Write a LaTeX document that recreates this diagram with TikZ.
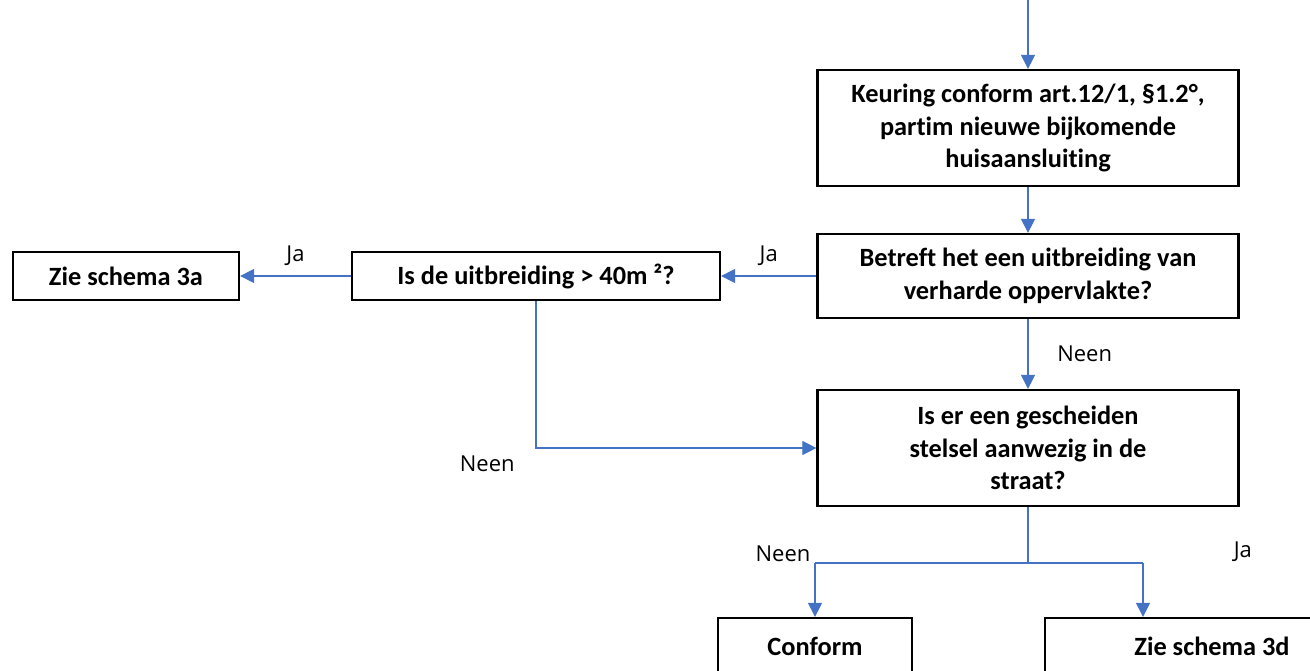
\documentclass[tikz,border=0pt]{standalone}
\usepackage{fontspec}
\setmainfont{Carlito}[RawFeature=-liga]
\newfontfamily\labelfont{Open Sans}
\usetikzlibrary{arrows.meta}
\definecolor{linkblue}{HTML}{4472C4}
\tikzset{
  box/.style={draw, line width=1.3pt, align=center, inner sep=0pt,
    font=\bfseries\fontsize{15}{18.5}\selectfont},
  link/.style={draw=linkblue, line width=0.7pt,
    -{Triangle[length=8pt,width=8pt]}, color=linkblue},
  lbl/.style={font=\labelfont\fontsize{12.5}{15}\selectfont, text=black}
}
\begin{document}
\begin{tikzpicture}[x=0.02cm,y=-0.02cm]
  \useasboundingbox (0,0) rectangle (1310,671);
  \coordinate (top) at (1028,0);
  \node[box, minimum width=8.42cm, minimum height=2.32cm] (keuring) at (1028,128)
    {Keuring conform art.12/1, §1.2°,\\ partim nieuwe bijkomende\\ huisaansluiting};
  \node[box, minimum width=8.42cm, minimum height=1.68cm] (betreft) at (1028,276)
    {Betreft het een uitbreiding van\\ verharde oppervlakte?};
  \node[box, minimum width=7.36cm, minimum height=0.96cm] (uitbreiding) at (536,276)
    {Is de uitbreiding > 40m ²?};
  \node[box, minimum width=4.52cm, minimum height=0.96cm] (schema3a) at (126,276)
    {Zie schema 3a};
  \node[box, minimum width=8.42cm, minimum height=2.32cm] (gescheiden) at (1028,448)
    {Is er een gescheiden\\ stelsel aanwezig in de\\ straat?};
  \node[box, minimum width=3.88cm, minimum height=1.12cm] (conform) at (815,646)
    {Conform};
  \node[box, minimum width=6.68cm, minimum height=1.12cm] (schema3d) at (1212,646)
    {Zie schema 3d};
  \coordinate (split) at (1028,563);
  \coordinate (splitL) at (815,563);
  \coordinate (splitR) at (1143,563);
  \begin{scope}[link]
    \draw (top) -- (keuring);
    \draw (keuring) -- (betreft);
    \draw (betreft) -- node[lbl, above, yshift=2pt]{Ja} (uitbreiding);
    \draw (uitbreiding) -- node[lbl, above, yshift=2pt]{Ja} (schema3a);
    \draw (betreft) -- node[lbl, right, xshift=13pt]{Neen} (gescheiden);
    \draw (uitbreiding) |- node[lbl, pos=0.5, below left, xshift=-8.5pt, yshift=-1pt]{Neen} (gescheiden);
    \draw[-] (gescheiden) -- (split);
    \draw (splitL) -- (conform);
    \draw (splitR) -- (splitR |- schema3d.north);
    \draw[-] (splitL) -- node[lbl, pos=0, above left, xshift=1pt, yshift=-3pt]{Neen} (splitR)
      node[lbl, above right, xshift=48pt, yshift=-3pt]{Ja};
  \end{scope}
\end{tikzpicture}
\end{document}
